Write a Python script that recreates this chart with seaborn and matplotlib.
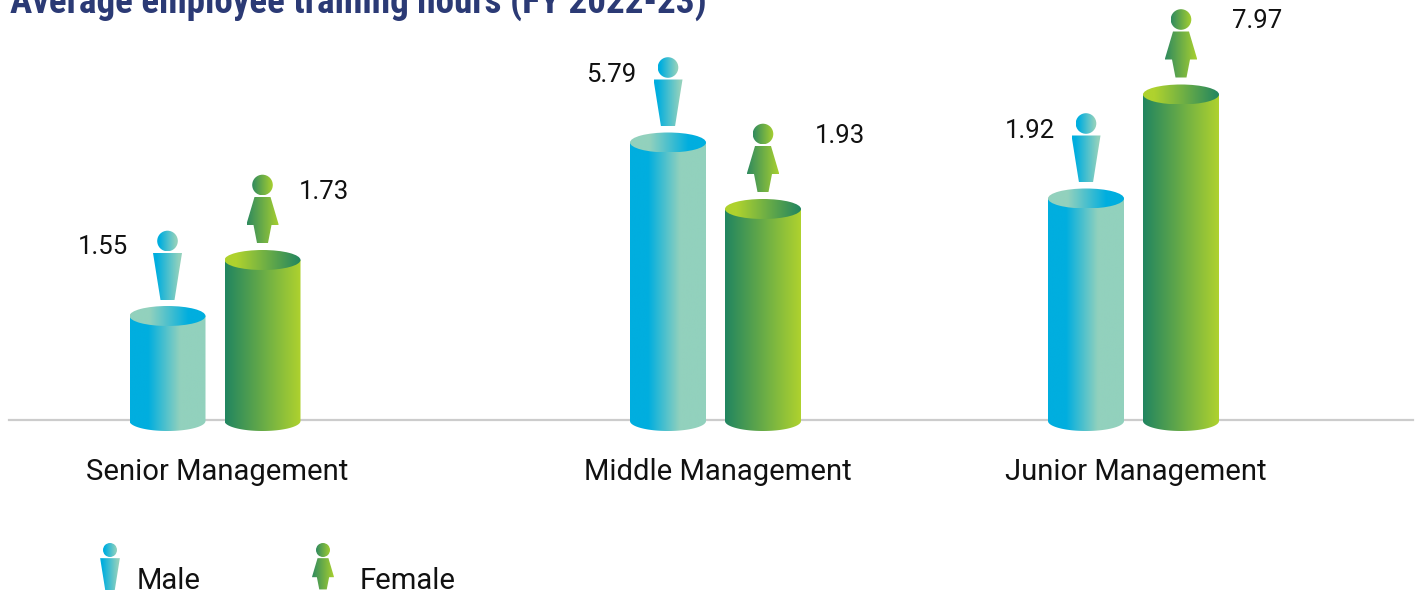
import numpy as np
import pandas as pd
import matplotlib
matplotlib.use("Agg")
import matplotlib.pyplot as plt
from matplotlib.colors import LinearSegmentedColormap
from matplotlib.patches import Ellipse, Polygon
from matplotlib import font_manager as fm
import seaborn as sns

# ---- data ----
categories = ["Senior Management", "Middle Management", "Junior Management"]
genders = ["Male", "Female"]
male_hours = [1.55, 5.79, 1.92]
female_hours = [1.73, 1.93, 7.97]
# the drawn cylinder heights are not proportional to the printed hours
male_drawn = [104, 277.5, 221.5]
female_drawn = [160, 211, 325.5]
title = "Average employee training hours (FY 2022-23)"

# ---- layout ----
W, H = 1422, 594
BASE = 420
group_x = [215, 715.5, 1133.5]
male_label_dx = [-65, -56.5, -56]
female_label_dx = [61.5, 77, 76]
male_label_dy = [69, 68, 68]
female_label_dy = [68, 73, 73]

sns.set_theme(style="white")
names = {f.name for f in fm.fontManager.ttflist}
title_font = next((n for n in ["Roboto Condensed", "Liberation Sans Narrow", "Roboto"] if n in names))
plt.rcParams["font.family"] = ["Roboto", "DejaVu Sans"]

df = pd.DataFrame({
    "x": group_x * 2,
    "gender": [genders[0]] * 3 + [genders[1]] * 3,
    "drawn": male_drawn + female_drawn,
})

fig = plt.figure(figsize=(W / 100, H / 100), dpi=100)
ax = fig.add_axes([0, (H - BASE) / H, 1, BASE / H])
sns.barplot(data=df, x="x", y="drawn", hue="gender", hue_order=genders,
            native_scale=True, width=190 / 418, gap=0.2, legend=False,
            palette=["#5CC0CE", "#6AAB48"], ax=ax, zorder=2, linewidth=0)
ax.set_xlim(0, W)
ax.set_ylim(0, BASE)

BLUE, TEAL = "#00AEDF", "#92D1BD"
DGREEN, LGREEN = "#218560", "#AFD22E"
cm_male = LinearSegmentedColormap.from_list("m", [(0, BLUE), (.24, BLUE), (.66, TEAL), (1, TEAL)])
cm_male_top = LinearSegmentedColormap.from_list("mt", [(0, TEAL), (.26, TEAL), (.77, BLUE), (1, BLUE)])
cm_female = LinearSegmentedColormap.from_list("f", [(0, DGREEN), (1, LGREEN)])
cm_female_top = LinearSegmentedColormap.from_list("ft", [(0, LGREEN), (.15, LGREEN), (1, DGREEN)])
cm_male_icon = LinearSegmentedColormap.from_list("mi", [(0, BLUE), (.12, BLUE), (.9, TEAL), (1, TEAL)])
cm_female_icon = LinearSegmentedColormap.from_list("fi", [(0, "#2F8A5F"), (1, "#A8D02F")])
grad = np.linspace(0, 1, 256)[None, :]


def fill(patch, cmap, x0, x1, y0, y1, z):
    """Paint a horizontal gradient clipped to an invisible patch."""
    patch.set(facecolor="none", edgecolor="none", transform=ax.transData, clip_on=False)
    ax.add_patch(patch)
    im = ax.imshow(grad, cmap=cmap, extent=(x0, x1, y0, y1), aspect="auto",
                   zorder=z, interpolation="bilinear")
    im.set_clip_path(patch)
    im.set_clip_box(fig.bbox)


def icon(cx, head_y, gender, s=1.0):
    r = 10.3 * s
    fill(Ellipse((cx, head_y), 2 * r, 2 * r),
         cm_male_icon if gender == "Male" else cm_female_icon,
         cx - r, cx + r, head_y - r, head_y + r, 4)
    top = head_y - 12 * s
    if gender == "Male":
        pts = [(-14.5, 0), (14.5, 0), (7, -47), (-7, -47)]
        cm, hw = cm_male_icon, 14.5
    else:
        pts = [(-8, 0), (8, 0), (16, -27), (16, -28), (9, -28), (5.5, -46),
               (-5.5, -46), (-9, -28), (-16, -28), (-16, -27)]
        cm, hw = cm_female_icon, 16
    poly = [(cx + a * s, top + b * s) for a, b in pts]
    fill(Polygon(poly, closed=True), cm, cx - hw * s, cx + hw * s, top - 47 * s, top, 4)


def cylinder(cx, top, gender, a=38, b=10):
    male = gender == "Male"
    t = np.linspace(np.pi, 2 * np.pi, 60)
    low = [(cx + a * np.cos(v), -1 + b * np.sin(v)) for v in t]
    verts = low + [(cx + a, top), (cx - a, top)]
    fill(Polygon(verts, closed=True), cm_male if male else cm_female,
         cx - a, cx + a, -12, top, 3)
    fill(Ellipse((cx, top), 2 * a, 2 * b), cm_male_top if male else cm_female_top,
         cx - a, cx + a, top - b, top + b, 3.5)


bars = [p for p in ax.patches if p.get_width() > 0]
for i, gender in enumerate(genders):
    hours = male_hours if i == 0 else female_hours
    dxs = male_label_dx if i == 0 else female_label_dx
    dys = male_label_dy if i == 0 else female_label_dy
    for j in range(3):
        bar = bars[i * 3 + j]
        cx = bar.get_x() + bar.get_width() / 2
        top = bar.get_height()
        bar.set_visible(False)
        cylinder(cx, top, gender)
        icon(cx, top + 75, gender)
        ax.text(cx + dxs[j], top + dys[j], f"{hours[j]:.2f}", ha="center", va="center",
                fontsize=18.5, color="#111111", clip_on=False, zorder=5)

ax.set_xlim(0, W)
ax.set_ylim(0, BASE)
ax.set_xlabel("")
ax.set_ylabel("")
ax.set_yticks([])
ax.set_xticks([g + 2.5 for g in group_x], categories, fontsize=21.1, color="#111111")
ax.tick_params(axis="x", length=0, pad=27.5)
for s in ["top", "left", "right"]:
    ax.spines[s].set_visible(False)
ax.spines["bottom"].set_bounds(9, 1413)
ax.spines["bottom"].set_color("#CCCCCC")
ax.spines["bottom"].set_linewidth(1.6)
ax.spines["bottom"].set_zorder(1)
ax.patch.set_alpha(0)

# title sits partly above the canvas, as in the reference
ax.text(10, BASE - 13, title, family=title_font, fontweight="bold", fontsize=26.7,
        color="#2B3A75", ha="left", va="baseline", clip_on=False)

# hand-built legend using the same pictograms
icon(110, BASE - 550, "Male", 0.68)
icon(323, BASE - 550, "Female", 0.68)
ax.text(137, BASE - 581, "Male", fontsize=21.1, color="#111111", va="center", clip_on=False)
ax.text(360, BASE - 581, "Female", fontsize=21.1, color="#111111", va="center", clip_on=False)

ax.set_xlim(0, W)
ax.set_ylim(0, BASE)
fig.savefig("out.png", dpi=100, facecolor="white")
